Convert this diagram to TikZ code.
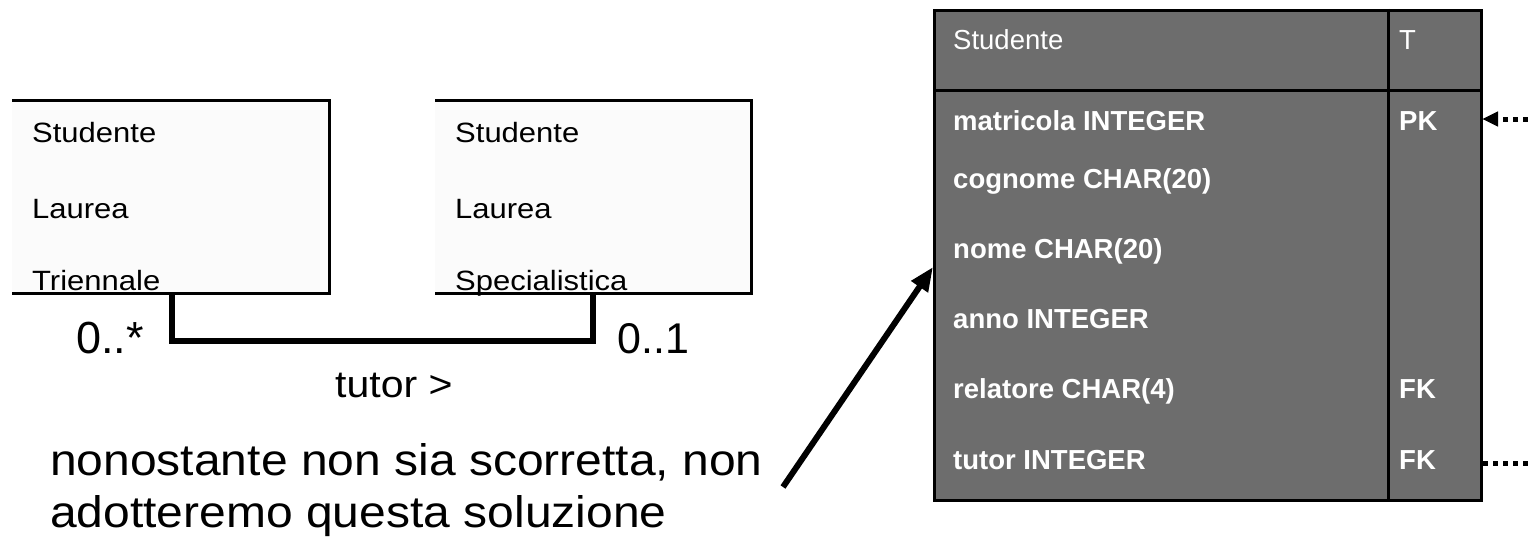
\documentclass[tikz,border=0pt]{standalone}
\usepackage{fontspec}
\usepackage{graphicx}
\setmainfont{Liberation Sans}
\usetikzlibrary{arrows.meta}
\definecolor{tabgray}{HTML}{6D6D6D}
\definecolor{boxfill}{HTML}{FBFBFB}
\newcommand{\sqz}[2][0.9]{\scalebox{1}[#1]{#2}}
\begin{document}
\begin{tikzpicture}[x=1pt,y=-1pt,
  lbl/.style={inner sep=0pt, anchor=base west, font=\fontsize{31}{37}\selectfont},
  tabtxt/.style={inner sep=0pt, anchor=base west, text=white, font=\fontsize{27.5}{33}\selectfont},
  rowtxt/.style={tabtxt, font=\fontsize{27.5}{33}\selectfont\bfseries},
  umlbox/.style={fill=boxfill, inner sep=0pt, anchor=north west, minimum height=193pt},
  edge3/.style={line width=3pt, line join=miter},
  assoc/.style={line width=6pt},
  bigtxt/.style={lbl, font=\fontsize{48}{52}\selectfont},
  fkdots/.style={line width=5pt, dash pattern=on 5pt off 5pt}
]
\useasboundingbox (0,0) rectangle (1528,543);

% UML boxes
\node[umlbox, minimum width=317pt] (b1) at (12,100) {};
\draw[edge3] (b1.north west) -- (b1.north east) -- (b1.south east) -- (b1.south west);
\node[umlbox, minimum width=316pt] (b2) at (435,100) {};
\draw[edge3] (b2.north west) -- (b2.north east) -- (b2.south east) -- (b2.south west);

\node[lbl] (b1a) at (32,142) {\sqz{Studente}};
\node[lbl] (b1b) at (32,218) {\sqz{Laurea}};
\node[lbl] (b1c) at (32,290) {\sqz{Triennale}};
\node[lbl] (b2a) at (455,142) {\sqz{Studente}};
\node[lbl] (b2b) at (455,218) {\sqz{Laurea}};
\node[lbl] (b2c) at (455,290) {\sqz{Specialistica}};

% association
\coordinate (c1) at (172,293);
\coordinate (k1) at (172,341);
\coordinate (k2) at (593,341);
\coordinate (c2) at (593,293);
\draw[assoc] (c1) -- (k1) -- (k2) -- (c2);
\node[lbl, font=\fontsize{45}{50}\selectfont] (m1) at (76,353) {0..*};
\node[lbl, font=\fontsize{43}{50}\selectfont] (m2) at (617,353) {0..1};
\node[lbl, font=\fontsize{41}{46}\selectfont] (rn) at (335,397) {\sqz[0.92]{tutor >}};

% comment
\node[bigtxt] (t1) at (50,475) {\sqz[0.92]{nonostante non sia scorretta, non}};
\node[bigtxt] (t2) at (50,527) {\sqz[0.92]{adotteremo questa soluzione}};

% table
\node[fill=tabgray, draw=black, line width=3pt, inner sep=0pt, anchor=north west,
      minimum width=547pt, minimum height=490pt] (tab) at (933,9) {};
\coordinate (h1) at (933,90);
\coordinate (h2) at (1480,90);
\coordinate (v1) at (1388,9);
\coordinate (v2) at (1388,499);
\draw[line width=3pt] (h1) -- (h2);
\draw[line width=3pt] (v1) -- (v2);

\node[tabtxt] (hs) at (953,50) {Studente};
\node[tabtxt] (ht) at (1399,50) {T};
\node[rowtxt] (r1) at (953,130) {matricola INTEGER};
\node[rowtxt] (r1k) at (1399,130) {PK};
\node[rowtxt] (r2) at (953,188) {cognome CHAR(20)};
\node[rowtxt] (r3) at (953,258) {nome CHAR(20)};
\node[rowtxt] (r4) at (953,328) {anno INTEGER};
\node[rowtxt] (r5) at (953,398) {relatore CHAR(4)};
\node[rowtxt] (r5k) at (1399,398) {FK};
\node[rowtxt] (r6) at (953,469) {tutor INTEGER};
\node[rowtxt] (r6k) at (1399,469) {FK};

% arrows
\coordinate (as) at (783,487);
\coordinate (at) at (933,267);
\draw[assoc, -{Triangle[length=24pt,width=19pt]}] (as) -- (at);

\coordinate (pkfar) at (1528,119);
\coordinate (pktip) at (1482,119);
\draw[fkdots, -{Triangle[length=16pt,width=14pt]}] (pkfar) -- (pktip);
\coordinate (fkstart) at (1483,463);
\coordinate (fkfar) at (1528,463);
\draw[fkdots] (fkstart) -- (fkfar);
\end{tikzpicture}
\end{document}
